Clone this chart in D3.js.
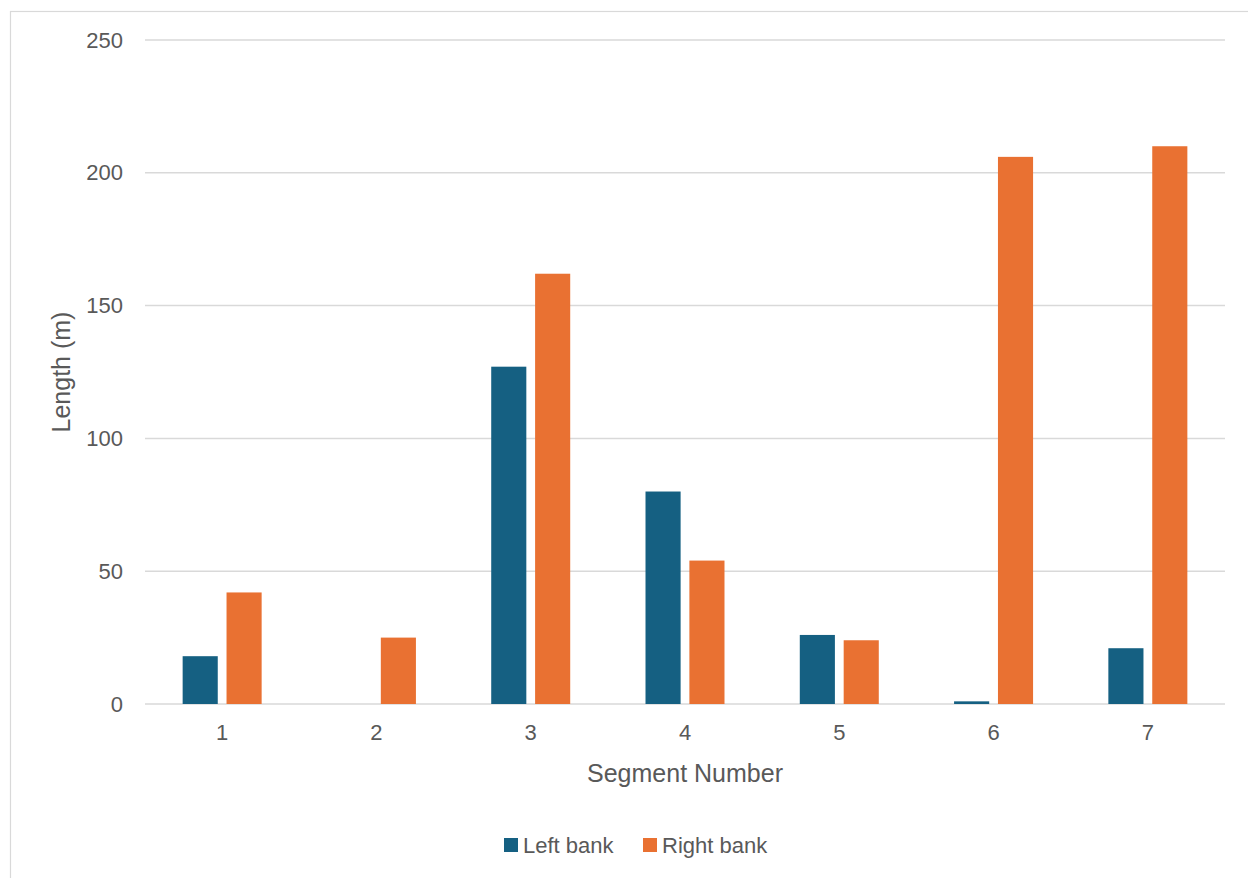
<!DOCTYPE html>
<html>
<head>
<meta charset="utf-8">
<script src="https://cdn.jsdelivr.net/npm/d3@7"></script>
<style>
  html, body { margin: 0; padding: 0; background: #fff; }
  svg { display: block; }
  text { font-family: "Liberation Sans", Arial, sans-serif; fill: #595959; }
</style>
</head>
<body>
<svg id="chart" width="1248" height="878"></svg>
<script>
// Bank length per river segment (metres)
const segments = ["1", "2", "3", "4", "5", "6", "7"];
const leftBank = [18, 0, 127, 80, 26, 1, 21];
const rightBank = [42, 25, 162, 54, 24, 206, 210];
const seriesNames = ["Left bank", "Right bank"];
const seriesColors = ["#156082", "#E97132"];
const yTicks = [0, 50, 100, 150, 200, 250];

const svg = d3.select("#chart");
const W = 1248, H = 878;
const plot = { left: 145, right: 1225, top: 40, bottom: 704 };

// Outer chart frame
svg.append("rect")
  .attr("x", 10.5).attr("y", 11.5)
  .attr("width", W + 20).attr("height", H + 20)
  .attr("fill", "#fff").attr("stroke", "#d9d9d9").attr("stroke-width", 1.2);

const y = d3.scaleLinear().domain([0, 250]).range([plot.bottom, plot.top]);
const x0 = d3.scaleBand().domain(segments).range([plot.left, plot.right]).padding(0);
const bw = x0.bandwidth();
const x1 = d3.scaleBand().domain(seriesNames)
  .range([bw * 0.244, bw * 0.756]).paddingInner(0.2).paddingOuter(0);

// Horizontal gridlines
svg.append("g")
  .selectAll("line").data(yTicks).join("line")
  .attr("x1", plot.left).attr("x2", plot.right)
  .attr("y1", d => y(d)).attr("y2", d => y(d))
  .attr("stroke", "#d9d9d9").attr("stroke-width", 1.5);

// Y axis labels
const yAxis = d3.axisLeft(y).tickValues(yTicks).tickSize(0).tickPadding(0);
const gy = svg.append("g").attr("transform", `translate(${plot.left - 22},0)`).call(yAxis);
gy.select(".domain").remove();
gy.selectAll("text").style("font-size", "22px").attr("fill", "#595959")
  .style("font-family", "'Liberation Sans', Arial, sans-serif");

// X axis labels
const xAxis = d3.axisBottom(x0).tickSize(0).tickPadding(0);
const gx = svg.append("g").attr("transform", `translate(0,${plot.bottom + 20})`).call(xAxis);
gx.select(".domain").remove();
gx.selectAll("text").style("font-size", "22px").attr("fill", "#595959")
  .style("font-family", "'Liberation Sans', Arial, sans-serif");

// Bars
const rows = segments.map((s, i) => ({ seg: s, values: [leftBank[i], rightBank[i]] }));
const groups = svg.append("g").selectAll("g").data(rows).join("g")
  .attr("transform", d => `translate(${x0(d.seg)},0)`);
groups.selectAll("rect")
  .data(d => d.values.map((v, k) => ({ name: seriesNames[k], value: v, color: seriesColors[k] })))
  .join("rect")
  .attr("x", d => x1(d.name))
  .attr("width", x1.bandwidth())
  .attr("y", d => y(d.value))
  .attr("height", d => y(0) - y(d.value))
  .attr("fill", d => d.color);

// Axis titles
svg.append("text")
  .attr("x", (plot.left + plot.right) / 2).attr("y", 782)
  .attr("text-anchor", "middle").style("font-size", "25px")
  .text("Segment Number");
svg.append("text")
  .attr("transform", `translate(70,${(plot.top + plot.bottom) / 2}) rotate(-90)`)
  .attr("text-anchor", "middle").style("font-size", "25px")
  .text("Length (m)");

// Legend
const legendItems = [
  { name: seriesNames[0], color: seriesColors[0], x: 504 },
  { name: seriesNames[1], color: seriesColors[1], x: 643 }
];
const lg = svg.append("g").selectAll("g").data(legendItems).join("g")
  .attr("transform", d => `translate(${d.x},838)`);
lg.append("rect").attr("width", 14).attr("height", 14).attr("fill", d => d.color);
lg.append("text").attr("x", 19).attr("y", 15).style("font-size", "22px").text(d => d.name);
</script>
</body>
</html>
